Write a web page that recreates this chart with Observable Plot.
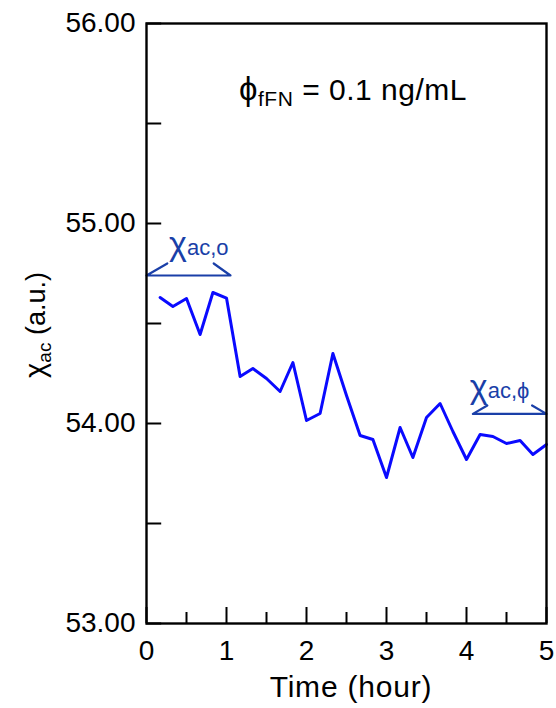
<!DOCTYPE html>
<html><head><meta charset="utf-8">
<script src="https://cdn.jsdelivr.net/npm/d3@7"></script>
<script src="https://cdn.jsdelivr.net/npm/@observablehq/plot@0.6"></script>
<style>body{margin:0;background:#fff;} svg{display:block;}</style>
</head><body><div id="chart"></div>
<script>
const times = [0.17, 0.33, 0.5, 0.67, 0.83, 1.0, 1.17, 1.33, 1.5, 1.67, 1.83, 2.0, 2.17, 2.33, 2.5,
               2.67, 2.83, 3.0, 3.17, 3.33, 3.5, 3.67, 3.83, 4.0, 4.17, 4.33, 4.5, 4.67, 4.83, 5.0];
const chiAc = [54.63, 54.585, 54.625, 54.445, 54.655, 54.627, 54.235, 54.275, 54.225, 54.16, 54.305, 54.015, 54.05, 54.35, 54.14,
               53.94, 53.92, 53.73, 53.98, 53.83, 54.03, 54.10, 53.96, 53.82, 53.945, 53.935, 53.90, 53.915, 53.845, 53.895];
const yMajor = [53, 54, 55, 56];
const yMinor = [53.5, 54.5, 55.5];
const xMajor = [0, 1, 2, 3, 4, 5];
const xMinor = [0.5, 1.5, 2.5, 3.5, 4.5];
const bracketOx = [0.26, 0, 1.05, 0.84];
const bracketOy = [54.80, 54.74, 54.74, 54.80];
const bracketPx = [4.26, 4.08, 5.0, 4.82];
const bracketPy = [54.09, 54.048, 54.048, 54.09];

const series = times.map((t, i) => ({t, v: chiAc[i]}));
const brO = bracketOx.map((x, i) => ({x, y: bracketOy[i]}));
const brP = bracketPx.map((x, i) => ({x, y: bracketPy[i]}));

const annColor = "#1a3fa8";
const plot = Plot.plot({
  width: 556, height: 708,
  marginLeft: 146, marginRight: 10, marginTop: 23, marginBottom: 85,
  style: {fontFamily: "'Liberation Sans', Arial, sans-serif", fontSize: "28px", background: "white", color: "black"},
  x: {domain: [0, 5]},
  y: {domain: [53, 56]},
  marks: [
    Plot.axisY(yMajor, {tickSize: 0, tickPadding: 11, tickFormat: d3.format(".2f"), label: null}),
    Plot.axisX(xMajor, {tickSize: 0, tickPadding: 17, label: null}),
    Plot.ruleY([...yMajor, ...yMinor], {x1: 0, x2: 0.19, stroke: "black", strokeWidth: 2}),
    Plot.ruleX(xMajor, {y1: 53, y2: 53.08, stroke: "black", strokeWidth: 2}),
    Plot.ruleX(xMinor, {y1: 53, y2: 53.055, stroke: "black", strokeWidth: 2}),
    Plot.line(series, {x: "t", y: "v", stroke: "#0a0aff", strokeWidth: 3}),
    Plot.line(brO, {x: "x", y: "y", stroke: annColor, strokeWidth: 2.2}),
    Plot.line(brP, {x: "x", y: "y", stroke: annColor, strokeWidth: 2.2}),
    Plot.frame({stroke: "black", strokeWidth: 2.4})
  ]
});
document.getElementById("chart").appendChild(plot);

const xs = plot.scale("x"), ys = plot.scale("y");
const svg = d3.select(plot);
const ff = "'Liberation Sans', Arial, sans-serif";

// Title
const t1 = svg.append("text").attr("x", 353).attr("y", 100).attr("text-anchor", "middle")
  .attr("font-family", ff).attr("font-size", 30).attr("fill", "black").attr("letter-spacing", 0.5);
t1.append("tspan").text("ϕ").attr("font-size", 33);
t1.append("tspan").text("fFN").attr("font-size", 21).attr("dy", 6);
t1.append("tspan").text(" = 0.1 ng/mL").attr("dy", -6);

// Y label
const yl = svg.append("text").attr("transform", "translate(45,325) rotate(-90)").attr("text-anchor", "middle")
  .attr("font-family", ff).attr("font-size", 27).attr("fill", "black");
yl.append("tspan").text("χ").attr("font-size", 29);
yl.append("tspan").text("ac").attr("font-size", 19).attr("dy", 6);
yl.append("tspan").text(" (a.u.)").attr("dy", -6);

// X label
svg.append("text").attr("x", 351).attr("y", 697).attr("text-anchor", "middle")
  .attr("font-family", ff).attr("font-size", 30).attr("letter-spacing", 0.8).attr("fill", "black").text("Time (hour)");

// Annotation labels
function annLabel(xv, yv, sub) {
  const t = svg.append("text").attr("x", xs.apply(xv)).attr("y", ys.apply(yv)).attr("text-anchor", "middle")
    .attr("font-family", ff).attr("fill", annColor);
  t.append("tspan").text("χ").attr("font-size", 34);
  t.append("tspan").text(sub).attr("font-size", 22);
}
annLabel(0.66, 54.84, "ac,o");
annLabel(4.42, 54.125, "ac,ϕ");
</script>
</body></html>
